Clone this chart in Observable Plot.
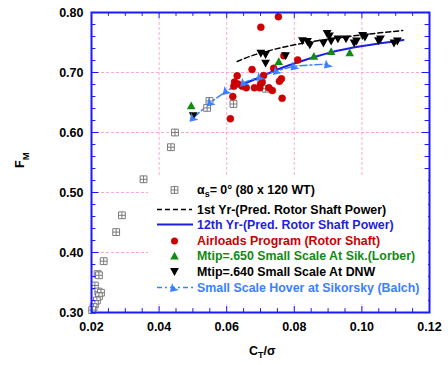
<!DOCTYPE html>
<html><head><meta charset="utf-8">
<script src="https://cdn.jsdelivr.net/npm/d3@7"></script>
<script src="https://cdn.jsdelivr.net/npm/@observablehq/plot@0.6"></script>
<style>body{margin:0;background:#fff} svg{display:block}</style>
</head><body><div id="chart"></div>
<script>
// ---- data ----
const wtX = [0.0354,0.0290,0.0273,0.0236,0.0218,0.0222,0.0210,0.0220,0.0228,0.0222,0.0216,0.0210,0.0206,0.0202,0.0435,0.0447,0.0542,0.0549,0.0620,0.0715];
const wtY = [0.522,0.462,0.434,0.3855,0.364,0.362,0.345,0.335,0.333,0.327,0.320,0.314,0.309,0.304,0.5755,0.600,0.641,0.6525,0.6475,0.673];

const firstYrX = [0.0631,0.0692,0.0791,0.0889,0.1002,0.1121];
const firstYrY = [0.7183,0.7312,0.7450,0.7545,0.7628,0.7700];

const twelfthYrX = [0.0641,0.0700,0.0750,0.0818,0.0907,0.1002,0.1123];
const twelfthYrY = [0.679,0.6925,0.705,0.7183,0.7333,0.7440,0.7542];

const airX = [0.0753,0.0701,0.0769,0.0810,0.0675,0.0739,0.0631,0.0709,0.0623,0.0633,0.0621,0.0646,0.0658,0.0682,0.0698,0.0705,0.0700,0.0725,0.0735,0.0756,0.0762,0.0764,0.0618,0.0611];
const airY = [0.793,0.7755,0.728,0.721,0.705,0.707,0.6945,0.695,0.684,0.681,0.677,0.677,0.6745,0.6745,0.6745,0.684,0.681,0.6745,0.670,0.6855,0.6895,0.657,0.660,0.623];

const lorberX = [0.0495,0.0754,0.0858,0.0909,0.0964];
const lorberY = [0.6445,0.7183,0.727,0.735,0.733];

const dnwX = [0.0501,0.0701,0.0715,0.0715,0.0774,0.0824,0.0839,0.0846,0.0886,0.0897,0.0904,0.0909,0.0929,0.0953,0.0977,0.0984,0.1002,0.1009,0.1049,0.1055,0.1095,0.1105];
const dnwY = [0.628,0.732,0.730,0.7155,0.728,0.753,0.7517,0.746,0.749,0.765,0.761,0.7525,0.756,0.756,0.749,0.7525,0.7617,0.759,0.753,0.756,0.749,0.7525];

const balchX = [0.0503,0.0554,0.0601,0.0653,0.0701,0.0750,0.0802,0.0901];
const balchY = [0.6255,0.6508,0.670,0.6838,0.6933,0.7033,0.7108,0.7142];

const xTicks = [0.02,0.04,0.06,0.08,0.10,0.12];
const yTicks = [0.30,0.40,0.50,0.60,0.70,0.80];
const xGrid = [0.04,0.06,0.08,0.10];
const yGrid = [0.40,0.50,0.60,0.70];
const xMinor = d3.range(0,21).map(i => +(0.02 + i*0.005).toFixed(3));
const yMinor = d3.range(0,26).map(i => +(0.30 + i*0.02).toFixed(2));

const legendLabels = [
  "= 0° (80 x 120 WT)",
  "1st Yr-(Pred. Rotor Shaft Power)",
  "12th Yr-(Pred. Rotor Shaft Power)",
  "Airloads Program (Rotor Shaft)",
  "Mtip=.650 Small Scale At Sik.(Lorber)",
  "Mtip=.640 Small Scale At DNW",
  "Small Scale Hover at Sikorsky (Balch)"
];

// ---- helpers ----
const pts = (xs, ys) => xs.map((x, i) => ({x, y: ys[i]}));
const wt = pts(wtX, wtY), firstYr = pts(firstYrX, firstYrY), twelfthYr = pts(twelfthYrX, twelfthYrY);
const air = pts(airX, airY), lorber = pts(lorberX, lorberY), dnw = pts(dnwX, dnwY), balch = pts(balchX, balchY);

const C = {frame:"#1a1aff", grid:"#ffa8d8", red:"#cc0000", green:"#138a13", blue12:"#1e1ee0", balch:"#3a80ff", gray:"#7a7a7a"};

const rr = size => Math.sqrt(size / Math.PI);
const symBox = {draw(c, size){const s=rr(size); c.moveTo(-s,-s); c.lineTo(s,-s); c.lineTo(s,s); c.lineTo(-s,s); c.closePath(); c.moveTo(-s,0); c.lineTo(s,0); c.moveTo(0,-s); c.lineTo(0,s);}};
const symUp = {draw(c, size){const s=rr(size); c.moveTo(0,-s); c.lineTo(s,0.8*s); c.lineTo(-s,0.8*s); c.closePath();}};
const symDown = {draw(c, size){const s=rr(size); c.moveTo(-s,-0.8*s); c.lineTo(s,-0.8*s); c.lineTo(0,s); c.closePath();}};
const symArrow = {draw(c, size){const s=rr(size); c.moveTo(-s,s); c.lineTo(-0.55*s,-s); c.lineTo(-0.05*s,0.05*s); c.lineTo(s,0.55*s); c.closePath();}};

const font = "Arial, 'Liberation Sans', sans-serif";

const chart = Plot.plot({
  width: 448, height: 365,
  marginLeft: 91, marginRight: 19, marginTop: 12, marginBottom: 53,
  style: {fontFamily: font, background: "#fff"},
  x: {domain: [0.02, 0.12]},
  y: {domain: [0.30, 0.80]},
  marks: [
    Plot.ruleX(xGrid, {stroke: C.grid, strokeDasharray: "3,2", strokeWidth: 1}),
    Plot.ruleY(yGrid, {stroke: C.grid, strokeDasharray: "3,2", strokeWidth: 1}),
    Plot.line(firstYr, {x: "x", y: "y", stroke: "black", strokeWidth: 1.5, strokeDasharray: "5,3", curve: "natural"}),
    Plot.line(twelfthYr, {x: "x", y: "y", stroke: C.blue12, strokeWidth: 2, curve: "natural"}),
    Plot.line(balch, {x: "x", y: "y", stroke: C.balch, strokeWidth: 1.5, strokeDasharray: "7,3,2,3"}),
    Plot.dot(wt, {x: "x", y: "y", r: 3.4, symbol: symBox, fill: "white", stroke: C.gray, strokeWidth: 1}),
    Plot.dot(air, {x: "x", y: "y", r: 3.5, fill: C.red, stroke: C.red, strokeWidth: 0.5}),
    Plot.dot(lorber, {x: "x", y: "y", r: 4.3, symbol: symUp, fill: C.green, stroke: "none"}),
    Plot.dot(dnw, {x: "x", y: "y", r: 4.4, symbol: symDown, fill: "black", stroke: "none"}),
    Plot.dot(balch, {x: "x", y: "y", r: 4.5, symbol: symArrow, fill: C.balch, stroke: "none"}),
    // inward ticks on all four sides
    Plot.ruleX(xMinor, {y1: 0.30, y2: d => (Math.round(d*1000) % 20 === 0 ? 0.31 : 0.3065), stroke: C.frame, strokeWidth: 1}),
    Plot.ruleX(xMinor, {y1: 0.80, y2: d => (Math.round(d*1000) % 20 === 0 ? 0.79 : 0.7935), stroke: C.frame, strokeWidth: 1}),
    Plot.ruleY(yMinor, {x1: 0.02, x2: d => (Math.round(d*100) % 10 === 0 ? 0.0222 : 0.0213), stroke: C.frame, strokeWidth: 1}),
    Plot.ruleY(yMinor, {x1: 0.12, x2: d => (Math.round(d*100) % 10 === 0 ? 0.1178 : 0.1187), stroke: C.frame, strokeWidth: 1}),
    Plot.frame({stroke: C.frame, strokeWidth: 2}),
    Plot.axisX({ticks: xTicks, tickFormat: ".2f", tickSize: 0, tickPadding: 10, label: null, fontSize: 12.5, fontWeight: "bold", fill: "black"}),
    Plot.axisY({ticks: yTicks, tickFormat: ".2f", tickSize: 0, tickPadding: 8, label: null, fontSize: 12.5, fontWeight: "bold", fill: "black"})
  ]
});
document.getElementById("chart").append(chart);

// ---- axis titles and legend (plain SVG DOM) ----
const NS = "http://www.w3.org/2000/svg";
function el(parent, tag, attrs, text) {
  const e = document.createElementNS(NS, tag);
  for (const k in attrs) e.setAttribute(k, attrs[k]);
  if (text != null) e.textContent = text;
  parent.appendChild(e);
  return e;
}
const base = {"font-family": font, "font-weight": "bold", "text-anchor": "start"};

const yl = el(chart, "text", {...base, transform: "translate(23.5,168) rotate(-90)", "font-size": 12.5, fill: "black"});
el(yl, "tspan", {}, "F");
el(yl, "tspan", {dy: 5, "font-size": 9.5}, "M");

const xl = el(chart, "text", {...base, x: 249, y: 355, "font-size": 12.5, fill: "black"});
el(xl, "tspan", {}, "C");
el(xl, "tspan", {dy: 3, "font-size": 9}, "T");
el(xl, "tspan", {dy: -3}, "/σ");

const lg = el(chart, "g", {...base, "font-size": 12.4});
el(lg, "rect", {x: 148, y: 177, width: 280, height: 127, fill: "white", stroke: "none"});
const rows = [190, 209.5, 224.5, 241, 256, 271.5, 287.5];
const colors = ["black", "black", C.blue12, C.red, C.green, "black", C.balch];
const sym = (s, r) => d3.symbol(s, r*r*Math.PI)();
el(lg, "path", {d: sym(symBox, 3.4), transform: `translate(174.5,${rows[0]})`, fill: "white", stroke: C.gray});
el(lg, "line", {x1: 157, x2: 192, y1: rows[1], y2: rows[1], stroke: "black", "stroke-width": 1.5, "stroke-dasharray": "5,3"});
el(lg, "line", {x1: 157, x2: 193, y1: rows[2], y2: rows[2], stroke: C.blue12, "stroke-width": 2});
el(lg, "circle", {cx: 174.5, cy: rows[3], r: 3.5, fill: C.red});
el(lg, "path", {d: sym(symUp, 4.3), transform: `translate(174.5,${rows[4]})`, fill: C.green});
el(lg, "path", {d: sym(symDown, 4.4), transform: `translate(174.5,${rows[5]})`, fill: "black"});
el(lg, "line", {x1: 157, x2: 193, y1: rows[6], y2: rows[6], stroke: C.balch, "stroke-width": 1.5, "stroke-dasharray": "5,3,2,3"});
el(lg, "path", {d: sym(symArrow, 4.5), transform: `translate(174.5,${rows[6]})`, fill: C.balch});
legendLabels.forEach((t, i) => {
  const tx = el(lg, "text", {x: 197, y: rows[i], dy: "0.36em", fill: colors[i]});
  if (i === 0) {
    el(tx, "tspan", {}, "α");
    el(tx, "tspan", {dy: 3, "font-size": 9}, "s");
    el(tx, "tspan", {dy: -3}, t);
  } else tx.textContent = t;
});
</script>
</body></html>
